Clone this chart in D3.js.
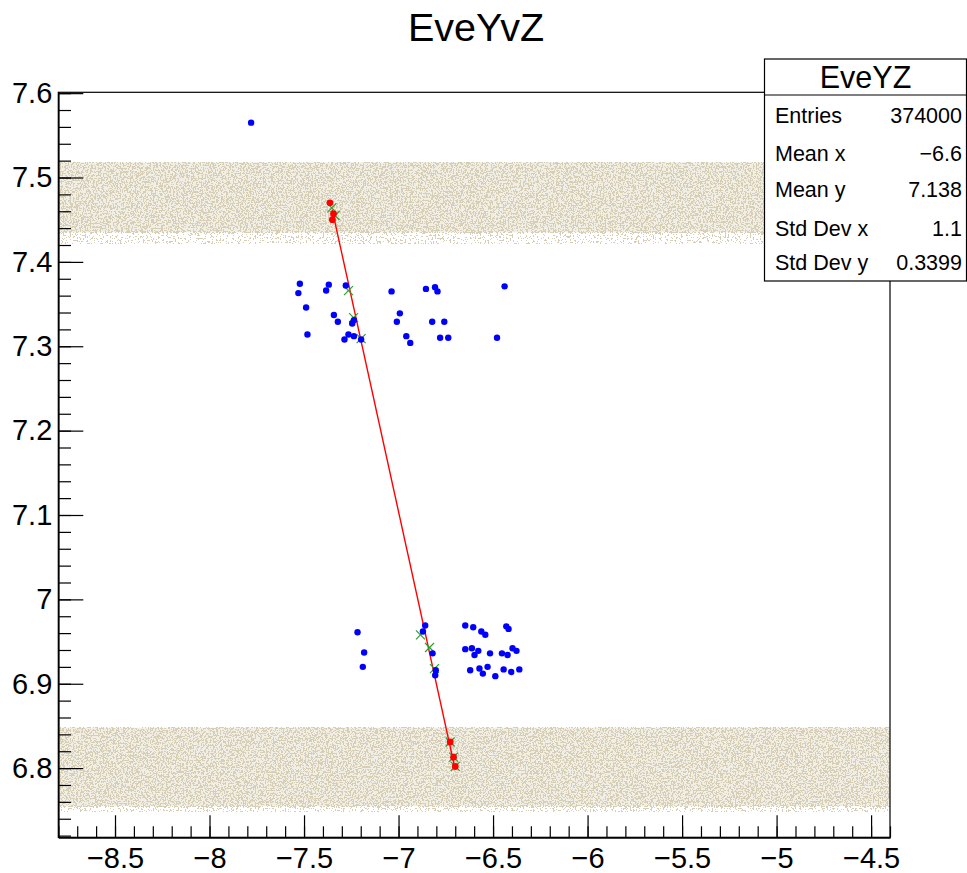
<!DOCTYPE html>
<html>
<head>
<meta charset="utf-8">
<script src="https://d3js.org/d3.v7.min.js"></script>
<style>
  body { margin: 0; background: #fff; }
  text { font-family: "Liberation Sans", Arial, Helvetica, sans-serif; fill: #000; }
</style>
</head>
<body>
<div id="chart"></div>
<script>
// axis ticks
var xMajor = [-8.5, -8, -7.5, -7, -6.5, -6, -5.5, -5, -4.5];
var yMajor = [6.8, 6.9, 7.0, 7.1, 7.2, 7.3, 7.4, 7.5, 7.6];

// background bands (y ranges of filled bins, with dot density)
var bandLow = [7.435, 7.422, 6.755, 6.749];
var bandHigh = [7.518, 7.435, 6.848, 6.755];
var bandDensity = [0.45, 0.08, 0.45, 0.12];

// hits (blue)
var hitX = [-7.78, -7.522, -7.530, -7.489, -7.482, -7.369, -7.383, -7.342, -7.321, -7.279,
            -7.265, -7.286, -7.236, -7.236, -7.245, -7.198, -7.037, -6.993, -7.009, -6.959,
            -6.938, -6.855, -6.807, -6.794, -6.822, -6.758, -6.780, -6.737, -6.439, -6.479,
            -7.217, -7.182, -7.189, -6.859, -6.871, -6.820, -6.803, -6.806, -6.647, -6.605,
            -6.562, -6.541, -6.430, -6.418, -6.647, -6.612, -6.578, -6.598, -6.516, -6.453,
            -6.423, -6.397, -6.376, -6.621, -6.572, -6.554, -6.529, -6.488, -6.444, -6.404, -6.361];
var hitY = [7.565, 7.374, 7.363, 7.346, 7.314, 7.373, 7.366, 7.337, 7.329, 7.372,
            7.314, 7.308, 7.312, 7.331, 7.327, 7.308, 7.365, 7.339, 7.329, 7.312,
            7.304, 7.368, 7.370, 7.365, 7.329, 7.329, 7.310, 7.310, 7.371, 7.310,
            6.961, 6.937, 6.920, 6.969, 6.962, 6.936, 6.916, 6.910, 6.969, 6.967,
            6.962, 6.958, 6.968, 6.965, 6.941, 6.942, 6.939, 6.934, 6.936, 6.936,
            6.934, 6.942, 6.939, 6.916, 6.918, 6.912, 6.920, 6.909, 6.917, 6.914, 6.917];

// track points (red)
var trkX = [-7.363, -7.344, -7.350, -6.727, -6.709, -6.700];
var trkY = [7.470, 7.457, 7.450, 6.831, 6.813, 6.802];

// fitted points (green x)
var fitX = [-7.353, -7.336, -7.265, -7.238, -7.198, -6.884, -6.836, -6.810, -6.727, -6.709, -6.700];
var fitY = [7.464, 7.455, 7.366, 7.334, 7.309, 6.958, 6.943, 6.918, 6.831, 6.813, 6.802];

// fitted line ends
var lineX = [-7.351, -6.700];
var lineY = [7.462, 6.798];

// stats box
var statLabels = ["Entries", "Mean x", "Mean y", "Std Dev x", "Std Dev y"];
var statValues = ["374000", "\u22126.6", "7.138", "1.1", "0.3399"];

var W = 967, H = 873;
var pL = 58.3, pR = 890, pT = 92.3, pB = 837.3;

var svg = d3.select("#chart").append("svg")
    .attr("width", W).attr("height", H);

var x = d3.scaleLinear().domain([-8.8, -4.4]).range([pL, pR]);
var y = d3.scaleLinear().domain([6.718, 7.601]).range([pB, pT]);

var defs = svg.append("defs");
defs.append("clipPath").attr("id", "frame")
  .append("rect").attr("x", pL).attr("y", pT)
  .attr("width", pR - pL).attr("height", pB - pT);

// speckle filter per density
function speckle(id, d, seed) {
  var n = 40, k = Math.round((1 - d) * n), table = [];
  for (var i = 0; i < n; i++) table.push(i < k ? 0 : 1);
  var f = defs.append("filter").attr("id", id)
    .attr("color-interpolation-filters", "sRGB")
    .attr("x", 0).attr("y", 0).attr("width", 1).attr("height", 1);
  f.append("feTurbulence").attr("type", "fractalNoise")
    .attr("baseFrequency", 0.6).attr("numOctaves", 2).attr("seed", seed).attr("result", "noise");
  f.append("feColorMatrix").attr("in", "noise").attr("type", "matrix")
    .attr("values", "0 0 0 0 0  0 0 0 0 0  0 0 0 0 0  4 0 0 0 -1.5").attr("result", "a");
  f.append("feComponentTransfer").attr("in", "a").attr("result", "t")
    .append("feFuncA").attr("type", "discrete").attr("tableValues", table.join(" "));
  f.append("feFlood").attr("flood-color", "#d6cfb6").attr("result", "c");
  f.append("feComposite").attr("in", "c").attr("in2", "t").attr("operator", "in");
}

var plot = svg.append("g").attr("clip-path", "url(#frame)");

bandLow.forEach(function(lo, i) {
  speckle("sp" + i, bandDensity[i], i + 3);
  var yy = y(bandHigh[i]), hh = y(lo) - y(bandHigh[i]);
  if (bandDensity[i] > 0.3) {
    // faint base so the band reads as a light beige
    plot.append("rect")
      .attr("x", pL).attr("width", pR - pL)
      .attr("y", yy).attr("height", hh)
      .attr("fill", "#f1eee5");
  }
  plot.append("rect")
    .attr("x", pL).attr("width", pR - pL)
    .attr("y", yy).attr("height", hh)
    .attr("fill", "#d6cfb6")
    .attr("filter", "url(#sp" + i + ")");
});

// fitted line
plot.append("line")
  .attr("x1", x(lineX[0])).attr("y1", y(lineY[0]))
  .attr("x2", x(lineX[1])).attr("y2", y(lineY[1]))
  .attr("stroke", "#ff0000").attr("stroke-width", 1.4);

// green x markers
var s = 4.5;
plot.selectAll(".fit").data(fitX).enter().append("path")
  .attr("class", "fit")
  .attr("d", function(d, i) {
    var cx = x(d), cy = y(fitY[i]);
    return "M" + (cx - s) + "," + (cy - s) + "L" + (cx + s) + "," + (cy + s) +
           "M" + (cx - s) + "," + (cy + s) + "L" + (cx + s) + "," + (cy - s);
  })
  .attr("stroke", "#2ea02e").attr("stroke-width", 1.2).attr("fill", "none");

plot.selectAll(".hit").data(hitX).enter().append("circle")
  .attr("class", "hit")
  .attr("cx", function(d) { return x(d); })
  .attr("cy", function(d, i) { return y(hitY[i]); })
  .attr("r", 3.2).attr("fill", "#0000ff");

plot.selectAll(".trk").data(trkX).enter().append("circle")
  .attr("class", "trk")
  .attr("cx", function(d) { return x(d); })
  .attr("cy", function(d, i) { return y(trkY[i]); })
  .attr("r", 3.4).attr("fill", "#ff0000");

// frame
svg.append("rect")
  .attr("x", pL).attr("y", pT)
  .attr("width", pR - pL).attr("height", pB - pT)
  .attr("fill", "none").attr("stroke", "#000").attr("stroke-width", 1.2);

// axes
var fmt = d3.format("~g");
var xMinor = d3.range(-88, -43).map(function(v) { return v / 10; });
var yMinor = d3.range(336, 381).map(function(v) { return v / 50; });

var xa = svg.append("g").attr("transform", "translate(0," + pB + ")");
xa.append("g").call(d3.axisBottom(x).tickValues(xMinor).tickFormat("").tickSize(-11).tickSizeOuter(0));
xa.append("g").call(d3.axisBottom(x).tickValues(xMajor).tickFormat(fmt).tickSize(-22).tickSizeOuter(0).tickPadding(10));

var ya = svg.append("g").attr("transform", "translate(" + pL + ",0)");
ya.append("g").call(d3.axisLeft(y).tickValues(yMinor).tickFormat("").tickSize(-12.7).tickSizeOuter(0));
ya.append("g").call(d3.axisLeft(y).tickValues(yMajor).tickFormat(fmt).tickSize(-25).tickSizeOuter(0).tickPadding(6));

svg.selectAll(".tick line").attr("stroke", "#000").attr("stroke-width", 1.2);
svg.selectAll(".domain").attr("stroke", "#000").attr("stroke-width", 1.2);
svg.selectAll(".tick text").attr("font-size", 29)
  .attr("font-family", "'Liberation Sans', Arial, sans-serif").attr("fill", "#000");

// title
svg.append("text")
  .attr("x", 476).attr("y", 41)
  .attr("text-anchor", "middle").attr("font-size", 39.5)
  .text("EveYvZ");

// stats box
var bx = 764.5, by = 59, bw = 202, bh = 222;
var stats = svg.append("g");
stats.append("rect").attr("x", bx).attr("y", by).attr("width", bw).attr("height", bh)
  .attr("fill", "#fff").attr("stroke", "#000").attr("stroke-width", 1.2);
stats.append("line").attr("x1", bx).attr("x2", bx + bw).attr("y1", 95).attr("y2", 95)
  .attr("stroke", "#000").attr("stroke-width", 1.2);
stats.append("text").attr("x", bx + bw / 2).attr("y", 87.5)
  .attr("text-anchor", "middle").attr("font-size", 30.5).text("EveYZ");
var rowY = [122.7, 161, 196.7, 235.7, 270];
statLabels.forEach(function(l, i) {
  stats.append("text").attr("x", 775).attr("y", rowY[i]).attr("font-size", 21.5).text(l);
  stats.append("text").attr("x", 962).attr("y", rowY[i]).attr("font-size", 21.5)
    .attr("text-anchor", "end").text(statValues[i]);
});
</script>
</body>
</html>
